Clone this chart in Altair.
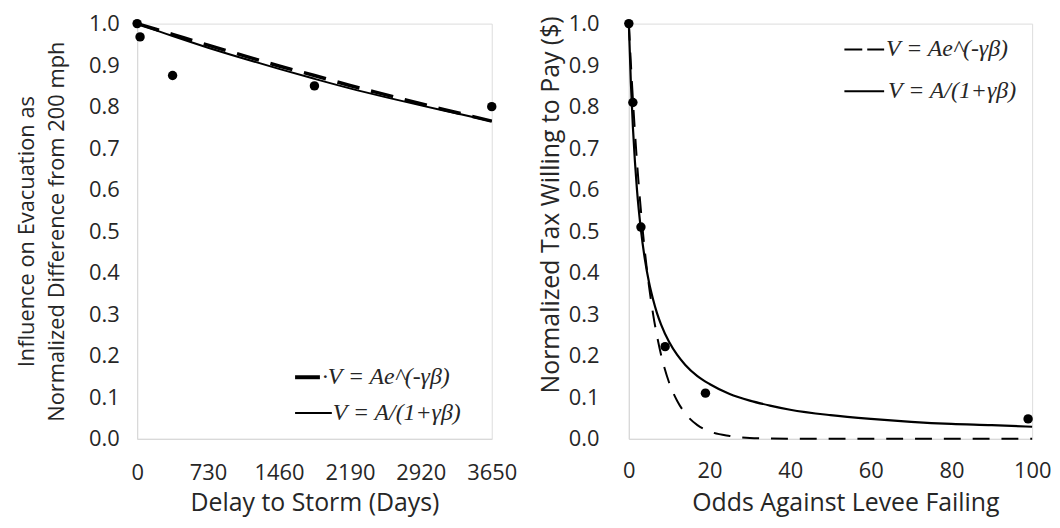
import altair as alt
import pandas as pd

# ---------------- Left panel data (Delay to Storm) ----------------
delay_days = [0, 30, 365, 1825, 3650]
delay_influence = [1.0, 0.968, 0.875, 0.85, 0.80]

delay_curve_x = [0, 365, 730, 1095, 1460, 1825, 2190, 2555, 2920, 3285, 3650]
delay_exp = [1.0, 0.974, 0.948, 0.923, 0.898, 0.875, 0.851, 0.829, 0.807, 0.786, 0.765]
delay_hyp = [1.0, 0.970, 0.942, 0.916, 0.891, 0.867, 0.844, 0.823, 0.803, 0.784, 0.765]
delay_ticks = [0, 730, 1460, 2190, 2920, 3650]

# ---------------- Right panel data (Odds against levee failing) ----------------
odds = [0, 1, 3, 9, 19, 99]
tax = [1.0, 0.81, 0.51, 0.222, 0.11, 0.048]

odds_curve_x = [0, 0.5, 1, 1.5, 2, 3, 4, 5, 6, 7, 8, 10, 12, 14, 17, 20, 25, 30,
                35, 40, 50, 60, 70, 80, 90, 100]
odds_exp = [1.0, 0.905, 0.819, 0.741, 0.670, 0.549, 0.449, 0.368, 0.301, 0.247,
            0.202, 0.135, 0.091, 0.061, 0.033, 0.018, 0.007, 0.002, 0.001, 0.0003,
            0.0, 0.0, 0.0, 0.0, 0.0, 0.0]
odds_hyp = [1.0, 0.858, 0.752, 0.669, 0.602, 0.503, 0.431, 0.377, 0.336, 0.302,
            0.275, 0.233, 0.202, 0.178, 0.151, 0.132, 0.108, 0.092, 0.080, 0.070,
            0.057, 0.048, 0.041, 0.036, 0.033, 0.029]
odds_ticks = [0, 20, 40, 60, 80, 100]

y_ticks = [round(i * 0.1, 1) for i in range(11)]

label_exp_left = "·V = Ae^(-γβ)"
label_exp_right = "V = Ae^(-γβ)"
label_hyp = "V = A/(1+γβ)"

FONT = "Open Sans"
SERIF = "Liberation Serif"
TXT = "#262626"
AXC = "#d9d9d9"


def mk_df(xs, ys):
    return pd.DataFrame({"x": xs, "y": ys})


def axis_common(**kw):
    base = dict(
        grid=False, ticks=False, domainColor=AXC, domainWidth=1.2,
        labelFont=FONT, labelColor=TXT, titleFont=FONT, titleColor=TXT,
        titleFontWeight="normal",
    )
    base.update(kw)
    return alt.Axis(**base)


def legend_items(items):
    """items: list of (x1, x2, y, width, dash, text_x, text)"""
    one = pd.DataFrame({"k": [0]})
    layers = []
    for x1, x2, y, w, dash, tx, txt in items:
        rule_kw = dict(color="black", strokeWidth=w)
        if dash:
            rule_kw["strokeDash"] = dash
        layers.append(
            alt.Chart(one).mark_rule(**rule_kw).encode(
                x=alt.value(x1), x2=alt.value(x2), y=alt.value(y))
        )
        layers.append(
            alt.Chart(one).mark_text(
                font=SERIF, fontStyle="italic", fontSize=24, color=TXT,
                align="left", baseline="middle").encode(
                x=alt.value(tx), y=alt.value(y), text=alt.value(txt))
        )
    return layers


# ---------------- Left panel ----------------
lx = alt.X("x:Q", scale=alt.Scale(domain=[0, 3650], nice=False),
           axis=axis_common(values=delay_ticks, format="d",
                            title="Delay to Storm (Days)",
                            labelFontSize=22, labelPadding=24, titleFontSize=25,
                            titlePadding=7, labelFlush=False))
ly = alt.Y("y:Q", scale=alt.Scale(domain=[0, 1], nice=False),
           axis=axis_common(values=y_ticks, format=".1f",
                            title=["Influence on Evacuation as",
                                   "Normalized Difference from 200 mph"],
                            labelFontSize=22, labelPadding=18, titleFontSize=22,
                            titlePadding=20, titleLineHeight=30, labelFlush=False))

left_layers = [
    alt.Chart(mk_df(delay_curve_x, delay_hyp)).mark_line(
        color="black", strokeWidth=2, interpolate="monotone"),
    alt.Chart(mk_df(delay_curve_x, delay_exp)).mark_line(
        color="black", strokeWidth=3.5, strokeDash=[23, 12], interpolate="monotone"),
    alt.Chart(mk_df(delay_days, delay_influence)).mark_circle(
        color="black", size=90, opacity=1),
]
left_legend = legend_items([
    (159, 184, 356, 4, None, 186, label_exp_left),
    (159, 196, 392, 2, None, 197, label_hyp),
])
left = alt.layer(*left_layers, *left_legend).encode(x=lx, y=ly).properties(
    width=357, height=418)

# ---------------- Right panel ----------------
rx = alt.X("x:Q", scale=alt.Scale(domain=[0, 100], nice=False),
           axis=axis_common(values=odds_ticks, format="d",
                            title="Odds Against Levee Failing",
                            labelFontSize=22, labelPadding=22, titleFontSize=25,
                            titlePadding=9, titleX=218, labelFlush=False))
ry = alt.Y("y:Q", scale=alt.Scale(domain=[0, 1], nice=False),
           axis=axis_common(values=y_ticks, format=".1f",
                            title="Normalized Tax Willing to Pay ($)",
                            labelFontSize=22, labelPadding=30, titleFontSize=25,
                            titlePadding=5, titleY=182, labelFlush=False))

right_layers = [
    alt.Chart(mk_df(odds_curve_x, odds_hyp)).mark_line(
        color="black", strokeWidth=2.2, interpolate="monotone"),
    alt.Chart(mk_df(odds_curve_x, odds_exp)).mark_line(
        color="black", strokeWidth=2, strokeDash=[17, 12], interpolate="monotone"),
    alt.Chart(mk_df(odds, tax)).mark_circle(color="black", size=90, opacity=1),
]
right_legend = legend_items([
    (217, 257, 26, 2, [18, 5], 259, label_exp_right),
    (217, 257, 68, 2, None, 261, label_hyp),
])
right = alt.layer(*right_layers, *right_legend).encode(x=rx, y=ry).properties(
    width=406, height=418)

chart = alt.hconcat(left, right, spacing=138, bounds="flush").properties(
    padding={"left": 7, "top": 2, "right": 0, "bottom": 0},
).configure_view(stroke=None).configure(background="white")

chart.save("out.html", embed_options={"renderer": "svg", "actions": False})
